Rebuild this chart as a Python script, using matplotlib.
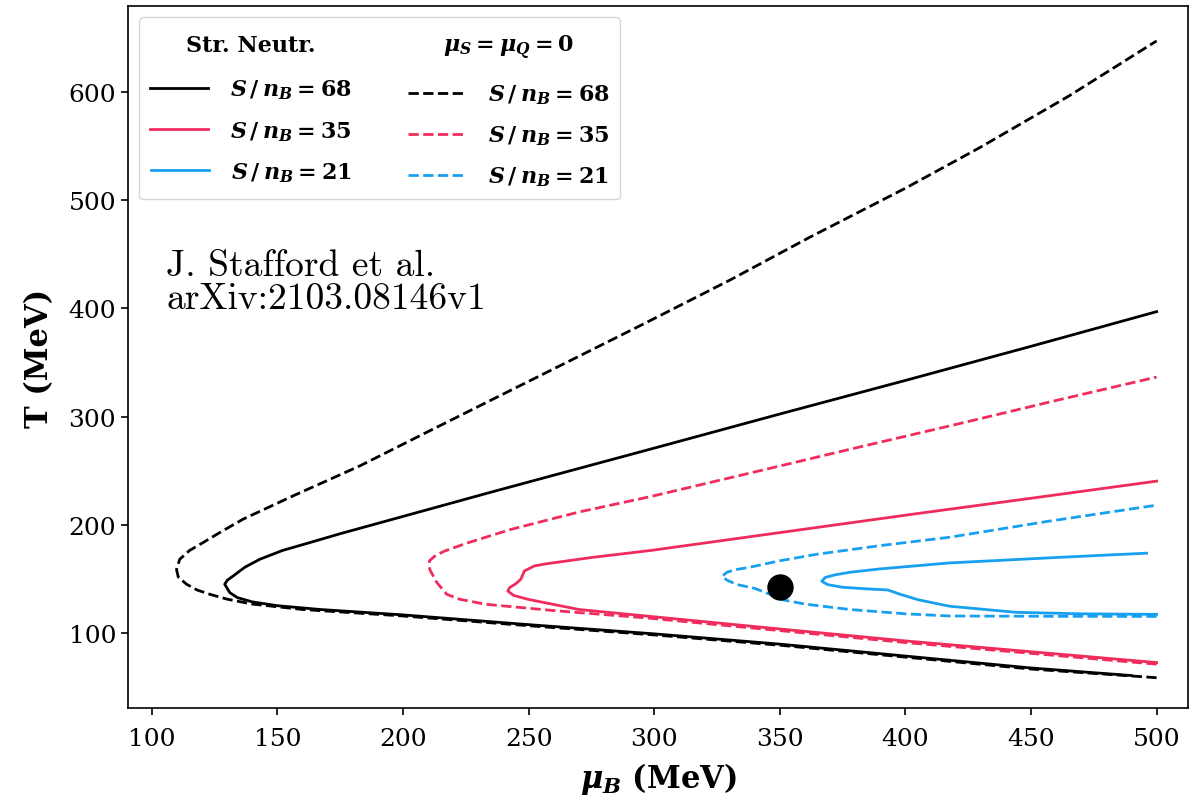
import matplotlib
matplotlib.use("Agg")
import matplotlib.pyplot as plt
from matplotlib.lines import Line2D

# digitised isentropes, path runs lower branch -> tip -> upper branch
sn68_sn_mu = [490, 450, 400, 350, 300, 250, 200, 167, 150, 140, 134, 131, 129, 130, 132.4, 137, 143, 152, 162.9, 175, 196, 234.5, 260, 300, 350, 400, 450, 500]
sn68_sn_T = [61, 68, 79, 90, 99.5, 108, 117, 122, 125.5, 129, 133, 137.6, 145.3, 149, 153, 161, 168.4, 176.5, 183.8, 192, 205.4, 230, 246, 271, 302.5, 333.5, 365, 397]

sn68_zero_mu = [500, 450, 400, 350, 300, 250, 200, 160, 140, 130, 123.1, 118, 113.8, 110.5, 109.8, 111.1, 115, 120.4, 127, 136.3, 156.2, 182.8, 209.3, 234.5, 265, 296.9, 330, 361.9, 400, 430, 465, 500]
sn68_zero_T = [59, 67, 78, 89, 98.5, 107, 116, 122, 127, 131.5, 136, 140, 145.3, 152, 159, 168.4, 176.5, 183.8, 193, 205.4, 226.9, 254.6, 285.5, 314.7, 350, 387, 426, 465.7, 511, 549, 596, 647]

sn35_sn_mu = [500, 450, 400, 350, 298, 270, 249.7, 244, 241.7, 242.4, 245, 246.9, 248.3, 252.3, 256.4, 275, 298.6, 350, 404.5, 450, 500]
sn35_sn_T = [73, 83, 93, 104, 115.7, 122, 131.4, 135, 139, 142.2, 146, 150, 157.6, 162.2, 164, 170, 176.5, 193, 210.5, 224.7, 240.5]

sn35_zero_mu = [500, 450, 400, 350, 298, 260, 233, 222.6, 217.4, 213.4, 210.6, 210.5, 213, 216.6, 225, 243, 270, 298.6, 350, 378, 424, 460, 500]
sn35_zero_T = [71.5, 81.5, 91.5, 102.5, 114, 121, 126.8, 131.4, 136, 147, 159, 167, 172, 176, 183, 196, 212, 226.3, 254.5, 270, 295, 315, 336.6]

sn21_sn_mu = [500, 470, 444, 417.6, 405, 398, 393, 385, 375, 369, 366.7, 368, 372, 378, 390, 417.6, 460, 496]
sn21_sn_T = [117.5, 118, 119.4, 125, 131, 136, 140, 141, 142.5, 145, 148, 151.5, 154, 156.4, 159.5, 165, 170, 174]

sn21_zero_mu = [500, 460, 417.6, 400, 377.8, 360, 351, 345, 340, 333, 329, 327, 329, 333, 338, 350, 364.7, 390, 417.6, 457, 500]
sn21_zero_T = [115.6, 115.7, 116, 118, 122, 127, 131, 137, 141.5, 145, 149, 152.7, 156.5, 159, 161, 167, 173, 181, 188.7, 203.5, 218.3]

critical_mu = [350]
critical_T = [143]

x_ticks = [100, 150, 200, 250, 300, 350, 400, 450, 500]
y_ticks = [100, 200, 300, 400, 500, 600]

BLACK = "black"
RED = "#f02c5c"
BLUE = "#18a0f0"

plt.rcParams["font.family"] = "DejaVu Serif"
plt.rcParams["mathtext.fontset"] = "custom"
plt.rcParams["mathtext.it"] = "DejaVu Serif:italic:bold"
plt.rcParams["mathtext.rm"] = "DejaVu Serif:bold"
plt.rcParams["mathtext.bf"] = "DejaVu Serif:bold"

fig = plt.figure(figsize=(12.01, 8.03), dpi=100)
ax = fig.add_axes([0.1066, 0.117, 0.8826, 0.874])

lw = 2.0
ax.plot(sn68_sn_mu, sn68_sn_T, color=BLACK, lw=lw)
ax.plot(sn35_sn_mu, sn35_sn_T, color=RED, lw=lw)
ax.plot(sn21_sn_mu, sn21_sn_T, color=BLUE, lw=lw)
ax.plot(sn68_zero_mu, sn68_zero_T, color=BLACK, lw=lw, ls="--")
ax.plot(sn35_zero_mu, sn35_zero_T, color=RED, lw=lw, ls="--")
ax.plot(sn21_zero_mu, sn21_zero_T, color=BLUE, lw=lw, ls="--")
ax.plot(critical_mu, critical_T, "o", color="black", ms=18, zorder=5)

ax.set_xlim(90.5, 512.5)
ax.set_ylim(31, 679)
ax.set_xticks(x_ticks)
ax.set_yticks(y_ticks)
ax.tick_params(labelsize=18, length=5, width=1.2)
ax.tick_params(axis="x", pad=9)
for spine in ax.spines.values():
    spine.set_linewidth(1.2)

ax.set_xlabel(r"$\mu_B$ (MeV)", fontsize=22, fontweight="bold", labelpad=7)
ax.set_ylabel("T (MeV)", fontsize=22, fontweight="bold", labelpad=10)

ax.text(0.036, 0.655, "J. Stafford et al.\narXiv:2103.08146v1",
        transform=ax.transAxes, family="cmr10", fontsize=27,
        va="top", ha="left", linespacing=1.0)

# legend with a header on top of each column
blank = Line2D([], [], color="none")
handles = [
    blank,
    Line2D([], [], color=BLACK, lw=lw),
    Line2D([], [], color=RED, lw=lw),
    Line2D([], [], color=BLUE, lw=lw),
    blank,
    Line2D([], [], color=BLACK, lw=lw, ls="--"),
    Line2D([], [], color=RED, lw=lw, ls="--"),
    Line2D([], [], color=BLUE, lw=lw, ls="--"),
]
labels = [
    "Str. Neutr.",
    r"$S\,/\,n_B = 68$",
    r"$S\,/\,n_B = 35$",
    r"$S\,/\,n_B = 21$",
    r"$\mu_S = \mu_Q = 0$",
    r"$S\,/\,n_B = 68$",
    r"$S\,/\,n_B = 35$",
    r"$S\,/\,n_B = 21$",
]
leg = ax.legend(handles, labels, ncol=2, loc="upper left",
                prop={"family": "DejaVu Serif", "weight": "bold", "size": 16},
                handlelength=2.6, handletextpad=1.0, columnspacing=2.5,
                labelspacing=0.79, borderaxespad=0.5, borderpad=0.5)

for column in leg._legend_handle_box.get_children():
    column.align = "center"
    header = column.get_children()[0]
    header.get_children()[0].set_width(0)
    header.sep = 0
    header.pad = 3

fig.savefig("out.png", dpi=100)
